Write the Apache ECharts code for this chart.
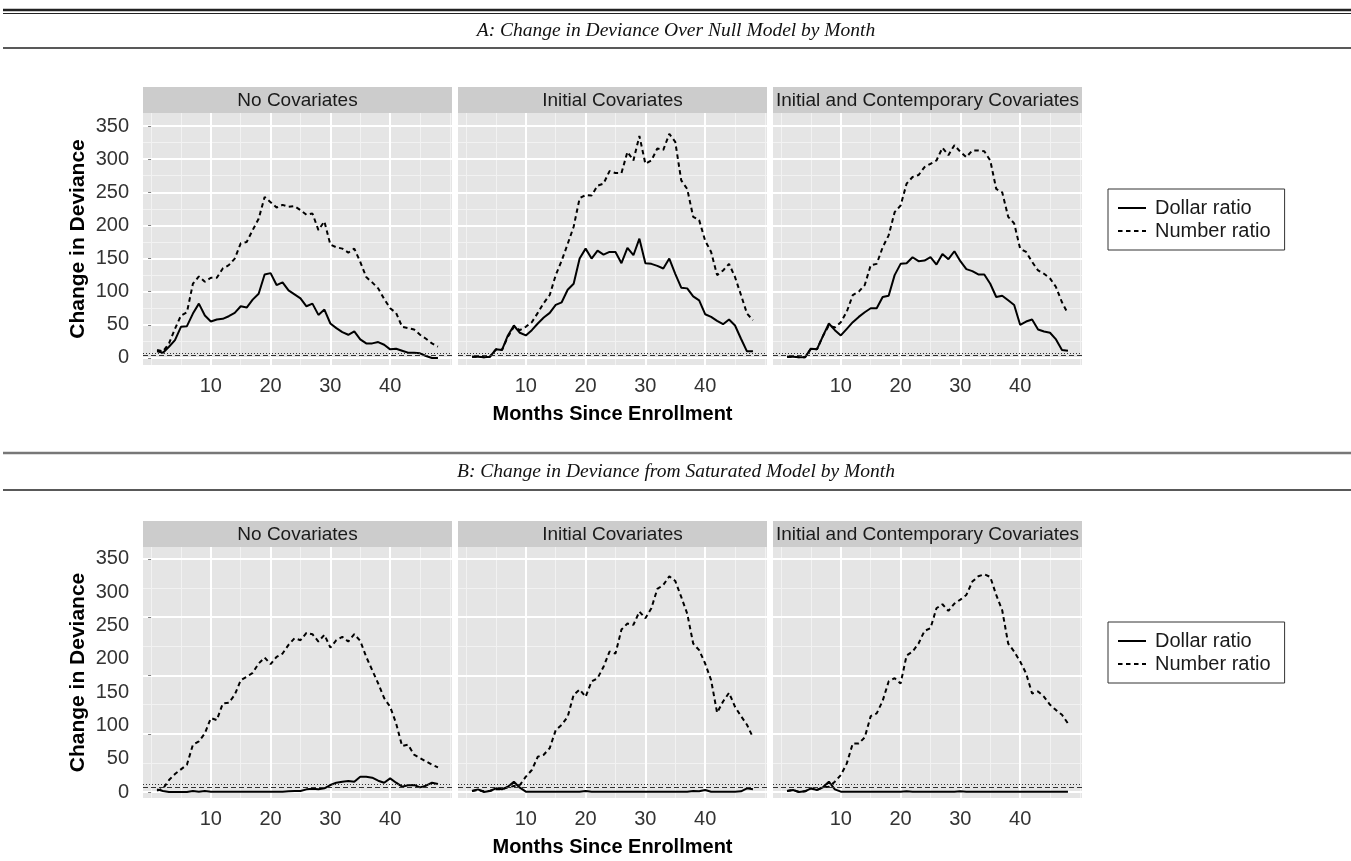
<!DOCTYPE html>
<html>
<head>
<meta charset="utf-8">
<script src="https://cdn.jsdelivr.net/npm/echarts@6/dist/echarts.min.js"></script>
<style>
  html, body { margin: 0; padding: 0; background: #ffffff; }
  #chart { width: 1351px; height: 861px; }
</style>
</head>
<body>
<div id="chart"></div>
<script>
// ---- data -------------------------------------------------------------
const months = [1,2,3,4,5,6,7,8,9,10,11,12,13,14,15,16,17,18,19,20,21,22,23,24,
                25,26,27,28,29,30,31,32,33,34,35,36,37,38,39,40,41,42,43,44,45,46,47,48];

const facetNames = ['No Covariates', 'Initial Covariates', 'Initial and Contemporary Covariates'];
const panelTitles = ['A: Change in Deviance Over Null Model by Month',
                     'B: Change in Deviance from Saturated Model by Month'];
const seriesNames = ['Dollar ratio', 'Number ratio'];

const xTickValues = [10, 20, 30, 40];
const xMinorValues = [0, 5, 15, 25, 35, 45, 50];
const yTickLabels = [0, 50, 100, 150, 200, 250, 300, 350];
const aGridMajor = [0, 50, 100, 150, 200, 250, 300, 350];
const aGridMinor = [25, 75, 125, 175, 225, 275, 325];
const bGridMajor = [0, 87.5, 175, 262.5, 350];
const bGridMinor = [43.75, 131.25, 218.75, 306.25];
const refLinesA = [3.84, 6.63];
const refLinesB = [7.5, 12];

// Panel A: change in deviance over the null model
const aNoCovDollar = [10,8,17,27,47,48,67,82,64,55,58,59,63,68,78,76,88,97,126,128,110,114,102,96,
                      90,78,82,65,73,52,45,39,35,40,28,22,22,24,20,13,14,11,8,8,7,3,0,0];
const aNoCovNumber = [12,10,22,44,64,69,112,123,115,121,121,135,140,150,173,175,193,210,243,235,227,231,228,229,
                      223,216,218,193,206,171,167,165,159,165,145,122,114,105,89,75,68,47,45,43,35,29,22,17];
const aInitDollar  = [2,2,1,2,13,12,34,49,38,34,42,52,61,68,80,84,103,112,150,165,150,162,156,160,
                      160,143,166,155,180,143,142,139,135,150,127,106,105,93,87,66,62,56,51,58,49,29,10,10];
const aInitNumber  = [2,2,1,2,13,12,32,47,42,47,54,68,83,95,125,147,172,198,241,246,245,260,263,282,
                      279,279,311,298,335,293,298,316,314,338,326,268,255,213,208,177,160,125,132,142,122,95,67,57];
const aContDollar  = [2,2,1,1,14,13,33,52,42,34,44,54,62,69,75,75,92,94,125,142,143,152,146,147,
                      152,141,157,149,161,146,134,131,126,126,112,92,94,87,80,50,55,58,43,40,38,28,12,11];
const aContNumber  = [2,2,1,1,14,13,33,49,46,54,70,95,100,110,140,142,167,185,220,230,263,273,276,288,
                      293,298,317,306,321,311,303,313,313,312,298,255,250,213,203,165,160,145,132,127,120,107,84,67];

// Panel B: change in deviance from the saturated model
const bNoCovDollar = [4,1.5,0,0,0,0,1.5,0.5,1.5,0.5,0.5,0.5,0.5,0.5,0.5,0.5,0.5,0.5,0.5,0.5,0.5,0.5,1,1.5,
                      1.5,4,5,4,5.5,10.5,14,15.5,16.5,15.5,23,23,21.5,17,14,20.5,14,8,10,10.5,7,9.5,14,12];
const bNoCovNumber = [2,5,18,27,34,41,71,76,88,111,108,133,134,146,168,173,179,193,202,192,203,208,221,231,
                      228,239,237,226,236,217,228,233,226,237,227,203,183,163,141,128,103,69,71,56,51,46,41,37];
const bInitDollar  = [1.5,4,0,1.5,5.5,4,8,15.5,6.5,0.5,0.5,0.5,0.5,0.5,0.5,0.5,0.5,0.5,0.5,1.5,0.5,0.5,0.5,0.5,
                      0.5,0.5,0.5,0.5,0.5,0.5,0.5,0.5,0.5,0.5,0.5,0.5,0.5,1.5,1,3,0.5,0.5,0.5,0.5,0.5,1,5.5,4];
const bInitNumber  = [1.5,3,1,2,4,4,7,9,10.5,23,33,53,56,66,93,101,113,146,154,143,166,171,188,211,
                      208,244,253,251,271,261,276,305,311,324,317,293,268,223,213,193,168,119,136,149,128,114,101,82];
const bContDollar  = [1.5,3,0,1,5.5,3,7,15.5,4,0.5,0.5,0.5,0.5,0.5,0.5,0.5,0.5,0.5,0.5,0.5,1,0.5,0.5,0.5,
                      0.5,0.5,0.5,0.5,0.5,1,0.5,0.5,0.5,0.5,0.5,0.5,0.5,0.5,0.5,0.5,0.5,0.5,0.5,0.5,0.5,0.5,0.5,0.5];
const bContNumber  = [1.5,3,0,1,5.5,3,7,8,15.5,25.5,43,73,73,82,114,118,137,166,171,163,205,211,223,242,
                      246,276,282,272,283,289,296,316,324,327,323,296,273,223,211,196,178,148,151,143,131,123,116,103];

const facetData = [
  [aNoCovDollar, aNoCovNumber], [aInitDollar, aInitNumber], [aContDollar, aContNumber],
  [bNoCovDollar, bNoCovNumber], [bInitDollar, bInitNumber], [bContDollar, bContNumber]
];

// ---- layout & style ---------------------------------------------------
const SANS = 'Liberation Sans, Arial, Helvetica, sans-serif';
const SERIF = 'Liberation Serif, Times New Roman, serif';
const facetLeft = [143, 458, 773];
const facetWidth = 309;
const rows = [
  { gridTop: 113, gridHeight: 252, stripTop: 87, yMin: -10.6, yMax: 369.6,
    major: aGridMajor, minor: aGridMinor, refs: refLinesA, titleY: 31, legendTop: 189 },
  { gridTop: 547, gridHeight: 251, stripTop: 521, yMin: -9, yMax: 368,
    major: bGridMajor, minor: bGridMinor, refs: refLinesB, titleY: 472, legendTop: 622 }
];
const X_MIN = -1.35, X_MAX = 50.35;

const grids = [], xAxes = [], yAxes = [], series = [], graphics = [];

rows.forEach((row, r) => {
  facetLeft.forEach((left, c) => {
    const g = r * 3 + c;
    grids.push({
      left: left, top: row.gridTop, width: facetWidth, height: row.gridHeight,
      show: true, backgroundColor: '#E5E5E5', borderWidth: 0,
      containLabel: false, outerBoundsMode: 'none'
    });

    // minor vertical grid lines
    xAxes.push({
      type: 'value', gridIndex: g, position: 'bottom', min: X_MIN, max: X_MAX, z: 0,
      axisLine: { show: false }, axisLabel: { show: false },
      axisTick: { show: false, customValues: xMinorValues },
      splitLine: { show: true, lineStyle: { color: '#F2F2F2', width: 1 } }
    });
    // major vertical grid lines + month labels
    xAxes.push({
      type: 'value', gridIndex: g, position: 'bottom', min: X_MIN, max: X_MAX, z: 1,
      axisLine: { show: false },
      axisTick: { show: false, customValues: xTickValues },
      axisLabel: { show: true, customValues: xTickValues, margin: 11,
                   fontFamily: SANS, fontSize: 20, color: '#333333' },
      splitLine: { show: true, lineStyle: { color: '#FFFFFF', width: 2 } },
      name: c === 1 ? 'Months Since Enrollment' : '',
      nameLocation: 'middle', nameGap: 39, nameMoveOverlap: false,
      nameTextStyle: { fontFamily: SANS, fontSize: 20, fontWeight: 'bold', color: '#000000' }
    });

    // minor horizontal grid lines
    yAxes.push({
      type: 'value', gridIndex: g, position: 'left', min: row.yMin, max: row.yMax, z: 0,
      axisLine: { show: false }, axisLabel: { show: false },
      axisTick: { show: false, customValues: row.minor },
      splitLine: { show: true, lineStyle: { color: '#F2F2F2', width: 1 } }
    });
    // major horizontal grid lines + deviance labels
    yAxes.push({
      type: 'value', gridIndex: g, position: 'left', min: row.yMin, max: row.yMax, z: 1,
      axisLine: { show: false },
      axisTick: { show: c === 0, customValues: row.major, length: 3,
                  lineStyle: { color: '#7F7F7F', width: 1 } },
      axisLabel: { show: c === 0, customValues: yTickLabels, margin: 14,
                   fontFamily: SANS, fontSize: 20, color: '#333333' },
      splitLine: { show: true, lineStyle: { color: '#FFFFFF', width: 2 } },
      name: c === 0 ? 'Change in Deviance' : '',
      nameLocation: 'middle', nameRotate: 90, nameGap: 54, nameMoveOverlap: false,
      nameTextStyle: { fontFamily: SANS, fontSize: 21, fontWeight: 'bold', color: '#000000' }
    });

    seriesNames.forEach((name, k) => {
      const values = facetData[g][k];
      const s = {
        name: name, type: 'line',
        xAxisIndex: 2 * g + 1, yAxisIndex: 2 * g + 1,
        data: months.map((m, i) => [m, values[i]]),
        symbol: 'none', showSymbol: false, z: 3,
        lineStyle: { color: '#000000', width: 2, type: k === 0 ? 'solid' : [4.5, 3.5] },
        itemStyle: { color: '#000000' },
        emphasis: { disabled: true },
        animation: false
      };
      if (k === 0) {
        s.markLine = {
          silent: true, symbol: ['none', 'none'], animation: false,
          label: { show: false },
          data: [
            { yAxis: row.refs[0], lineStyle: { type: [5, 3], color: '#333333', width: 1 } },
            { yAxis: row.refs[1], lineStyle: { type: [1, 2], color: '#333333', width: 1 } }
          ]
        };
      }
      series.push(s);
    });

    // facet strip
    graphics.push({
      type: 'rect', shape: { x: left, y: row.stripTop, width: facetWidth, height: row.gridTop - row.stripTop },
      style: { fill: '#CCCCCC' }, silent: true
    });
    graphics.push({
      type: 'text', x: left + facetWidth / 2, y: row.stripTop + (row.gridTop - row.stripTop) / 2 + 1,
      style: { text: facetNames[c], align: 'center', verticalAlign: 'middle',
               fontFamily: SANS, fontSize: 19, fill: '#1A1A1A' },
      silent: true
    });
  });

  // panel heading
  graphics.push({
    type: 'text', x: 676, y: row.titleY,
    style: { text: panelTitles[r], align: 'center', verticalAlign: 'middle',
             fontFamily: SERIF, fontStyle: 'italic', fontSize: 19.5, fill: '#111111' },
    silent: true
  });
});

// horizontal rules framing the panel headings
const rules = [
  { y: 10, w: 2.5, c: '#222222' },
  { y: 13.5, w: 1, c: '#222222' },
  { y: 48, w: 1.5, c: '#222222' },
  { y: 453, w: 2.5, c: '#777777' },
  { y: 490, w: 1.5, c: '#222222' }
];
rules.forEach(rl => graphics.push({
  type: 'line', shape: { x1: 3, y1: rl.y, x2: 1351, y2: rl.y },
  style: { stroke: rl.c, lineWidth: rl.w }, silent: true
}));

const legends = rows.map(row => ({
  data: seriesNames, orient: 'vertical', left: 1108, top: row.legendTop,
  padding: [9, 14, 9, 9], itemGap: 3, itemWidth: 28, itemHeight: 22,
  borderColor: '#333333', borderWidth: 1, backgroundColor: '#FFFFFF',
  selectedMode: false,
  itemStyle: { opacity: 0 },
  lineStyle: { width: 2 },
  textStyle: { fontFamily: SANS, fontSize: 20, color: '#1A1A1A', padding: [0, 0, 0, 4] }
}));

const chart = echarts.init(document.getElementById('chart'), null, { renderer: 'canvas' });
chart.setOption({
  backgroundColor: '#FFFFFF',
  animation: false,
  grid: grids,
  xAxis: xAxes,
  yAxis: yAxes,
  legend: legends,
  series: series,
  graphic: graphics
});
</script>
</body>
</html>
